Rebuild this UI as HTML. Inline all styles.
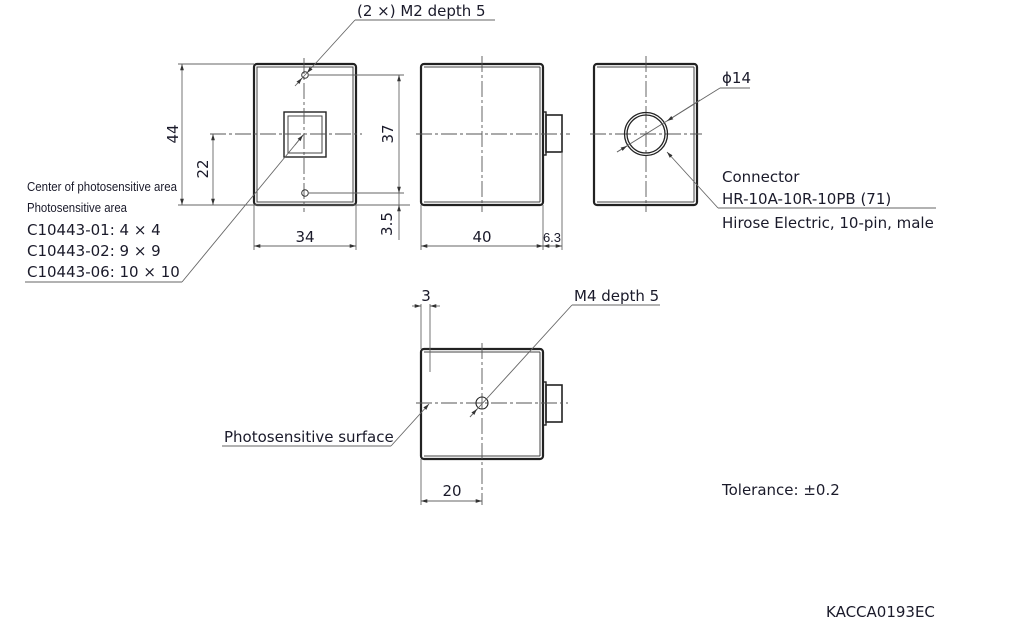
<!DOCTYPE html>
<html><head><meta charset="utf-8"><style>
html,body{margin:0;padding:0;background:#fff}
svg{display:block}
text{font-family:"DejaVu Sans","Liberation Sans",sans-serif;fill:#1a1a2a;font-size:15px}
.s{font-size:13px;font-family:"Liberation Sans Narrow","Liberation Sans",sans-serif}
.b{fill:none;stroke:#222;stroke-width:2.2}
.bt{fill:none;stroke:#444;stroke-width:1}
.l{stroke:#666;stroke-width:0.9;fill:none}
.c{stroke:#555;stroke-width:0.9;stroke-dasharray:16 3 3 3;fill:none}
</style></head><body>
<svg width="1012" height="630" viewBox="0 0 1012 630" xmlns="http://www.w3.org/2000/svg">
<defs>
<marker id="a" viewBox="0 0 10 10" refX="10" refY="5" markerWidth="7" markerHeight="7" orient="auto-start-reverse"><path d="M0,2 L10,5 L0,8z" fill="#333"/></marker>
</defs>

<!-- FRONT VIEW -->
<rect class="b" x="254" y="64" width="102" height="141" rx="3"/>
<rect class="bt" x="257" y="67" width="96" height="135"/>
<rect class="b" x="284" y="112" width="42" height="45" style="stroke-width:1.4"/>
<rect class="bt" x="288" y="116" width="34" height="37"/>
<line class="c" x1="304" y1="58" x2="304" y2="212"/>
<line class="c" x1="210" y1="134" x2="362" y2="134"/>
<circle cx="305" cy="75" r="3.3" fill="none" stroke="#333" stroke-width="1"/>
<circle cx="305" cy="193" r="3.3" fill="none" stroke="#333" stroke-width="1"/>
<line class="l" x1="178" y1="64" x2="254" y2="64"/>
<line class="l" x1="178" y1="205" x2="410" y2="205"/>
<line class="l" x1="182" y1="64" x2="182" y2="205" marker-start="url(#a)" marker-end="url(#a)"/>
<text x="178" y="134" transform="rotate(-90 178 134)" text-anchor="middle">44</text>
<line class="l" x1="213" y1="134" x2="213" y2="205" marker-start="url(#a)" marker-end="url(#a)"/>
<text x="208" y="169" transform="rotate(-90 208 169)" text-anchor="middle">22</text>
<line class="l" x1="308" y1="75" x2="404" y2="75"/>
<line class="l" x1="308" y1="193" x2="404" y2="193"/>
<line class="l" x1="399" y1="75" x2="399" y2="193" marker-start="url(#a)" marker-end="url(#a)"/>
<text x="393" y="134" transform="rotate(-90 393 134)" text-anchor="middle">37</text>
<line class="l" x1="399" y1="193" x2="399" y2="240"/>
<line class="l" x1="399" y1="208" x2="399" y2="205" marker-end="url(#a)"/>
<text x="392" y="224" transform="rotate(-90 392 224)" text-anchor="middle">3.5</text>
<line class="l" x1="254" y1="205" x2="254" y2="250"/>
<line class="l" x1="356" y1="205" x2="356" y2="250"/>
<line class="l" x1="254" y1="246" x2="356" y2="246" marker-start="url(#a)" marker-end="url(#a)"/>
<text x="305" y="242" text-anchor="middle">34</text>
<line class="l" x1="295" y1="86" x2="355" y2="20"/>
<line class="l" x1="313" y1="66" x2="307" y2="73" marker-end="url(#a)"/>
<line class="l" x1="297" y1="84" x2="302" y2="78" marker-end="url(#a)"/>
<line class="l" x1="355" y1="20" x2="495" y2="20"/>
<text x="357" y="16">(2 ×) M2 depth 5</text>
<line class="l" x1="304" y1="134" x2="182" y2="282"/>
<line class="l" x1="295" y1="145" x2="303" y2="135" marker-end="url(#a)"/>
<line class="l" x1="182" y1="282" x2="25" y2="282"/>
<text x="27" y="191" class="s" textLength="150" lengthAdjust="spacingAndGlyphs">Center of photosensitive area</text>
<text x="27" y="212" class="s" textLength="100" lengthAdjust="spacingAndGlyphs">Photosensitive area</text>
<text x="27" y="235">C10443-01: 4 × 4</text>
<text x="27" y="256">C10443-02: 9 × 9</text>
<text x="27" y="277">C10443-06: 10 × 10</text>

<!-- SIDE VIEW -->
<rect class="b" x="421" y="64" width="122" height="141" rx="3"/>
<line class="bt" x1="424" y1="67" x2="540" y2="67"/>
<line class="bt" x1="424" y1="202" x2="540" y2="202"/>
<line class="bt" x1="540" y1="67" x2="540" y2="202"/>
<rect class="b" x="543" y="112" width="3" height="43" style="stroke-width:1.4"/>
<rect class="b" x="546" y="115" width="16" height="37" style="stroke-width:1.6"/>
<line class="c" x1="482" y1="56" x2="482" y2="212"/>
<line class="c" x1="416" y1="134" x2="570" y2="134"/>
<line class="l" x1="421" y1="205" x2="421" y2="250"/>
<line class="l" x1="543" y1="205" x2="543" y2="250"/>
<line class="l" x1="562" y1="152" x2="562" y2="250"/>
<line class="l" x1="421" y1="246" x2="543" y2="246" marker-start="url(#a)" marker-end="url(#a)"/>
<line class="l" x1="543" y1="246" x2="562" y2="246" marker-start="url(#a)" marker-end="url(#a)"/>
<text x="482" y="242" text-anchor="middle">40</text>
<text x="552" y="242" text-anchor="middle" class="s">6.3</text>

<!-- BACK VIEW -->
<rect class="b" x="594" y="64" width="103" height="141" rx="3"/>
<line class="bt" x1="694" y1="67" x2="694" y2="202"/>
<line class="bt" x1="597" y1="67" x2="694" y2="67"/>
<line class="bt" x1="597" y1="202" x2="694" y2="202"/>
<line class="c" x1="646" y1="56" x2="646" y2="212"/>
<line class="c" x1="590" y1="134" x2="702" y2="134"/>
<circle cx="646" cy="134" r="21.5" fill="none" stroke="#222" stroke-width="1.3"/>
<circle cx="646" cy="134" r="19" fill="none" stroke="#222" stroke-width="1.3"/>
<line class="l" x1="617" y1="152" x2="720" y2="88"/>
<line class="l" x1="617" y1="152" x2="627" y2="146" marker-end="url(#a)"/>
<line class="l" x1="700" y1="100" x2="667" y2="121" marker-end="url(#a)"/>
<line class="l" x1="720" y1="88" x2="750" y2="88"/>
<text x="722" y="83">ϕ14</text>
<line class="l" x1="718" y1="208" x2="667" y2="152" marker-end="url(#a)"/>
<line class="l" x1="718" y1="208" x2="936" y2="208"/>
<text x="722" y="182">Connector</text>
<text x="722" y="204">HR-10A-10R-10PB (71)</text>
<text x="722" y="228">Hirose Electric, 10-pin, male</text>

<!-- BOTTOM VIEW -->
<rect class="b" x="421" y="349" width="122" height="110" rx="3"/>
<line class="bt" x1="424" y1="352" x2="540" y2="352"/>
<line class="bt" x1="424" y1="456" x2="540" y2="456"/>
<line class="bt" x1="540" y1="352" x2="540" y2="456"/>
<rect class="b" x="543" y="382" width="3" height="43" style="stroke-width:1.4"/>
<rect class="b" x="546" y="385" width="16" height="37" style="stroke-width:1.6"/>
<line class="c" x1="482" y1="343" x2="482" y2="505"/>
<line class="c" x1="416" y1="403" x2="568" y2="403"/>
<circle cx="482" cy="403" r="6" fill="none" stroke="#222" stroke-width="1.1"/>
<line class="l" x1="470" y1="417" x2="572" y2="305"/>
<line class="l" x1="470" y1="417" x2="477" y2="409" marker-end="url(#a)"/>
<line class="l" x1="572" y1="305" x2="660" y2="305"/>
<text x="574" y="301">M4 depth 5</text>
<line class="l" x1="421" y1="304" x2="421" y2="349"/>
<line class="l" x1="430" y1="304" x2="430" y2="372"/>
<line class="l" x1="412" y1="306" x2="421" y2="306" marker-end="url(#a)"/>
<line class="l" x1="440" y1="306" x2="430" y2="306" marker-end="url(#a)"/>
<text x="426" y="301" text-anchor="middle">3</text>
<line class="l" x1="421" y1="459" x2="421" y2="505"/>
<line class="l" x1="421" y1="501" x2="482" y2="501" marker-start="url(#a)" marker-end="url(#a)"/>
<text x="452" y="496" text-anchor="middle">20</text>
<line class="l" x1="391" y1="446" x2="429" y2="404" marker-end="url(#a)"/>
<line class="l" x1="391" y1="446" x2="222" y2="446"/>
<text x="224" y="442">Photosensitive surface</text>

<text x="722" y="495">Tolerance: ±0.2</text>
<text x="826" y="617">KACCA0193EC</text>
</svg>
</body></html>
